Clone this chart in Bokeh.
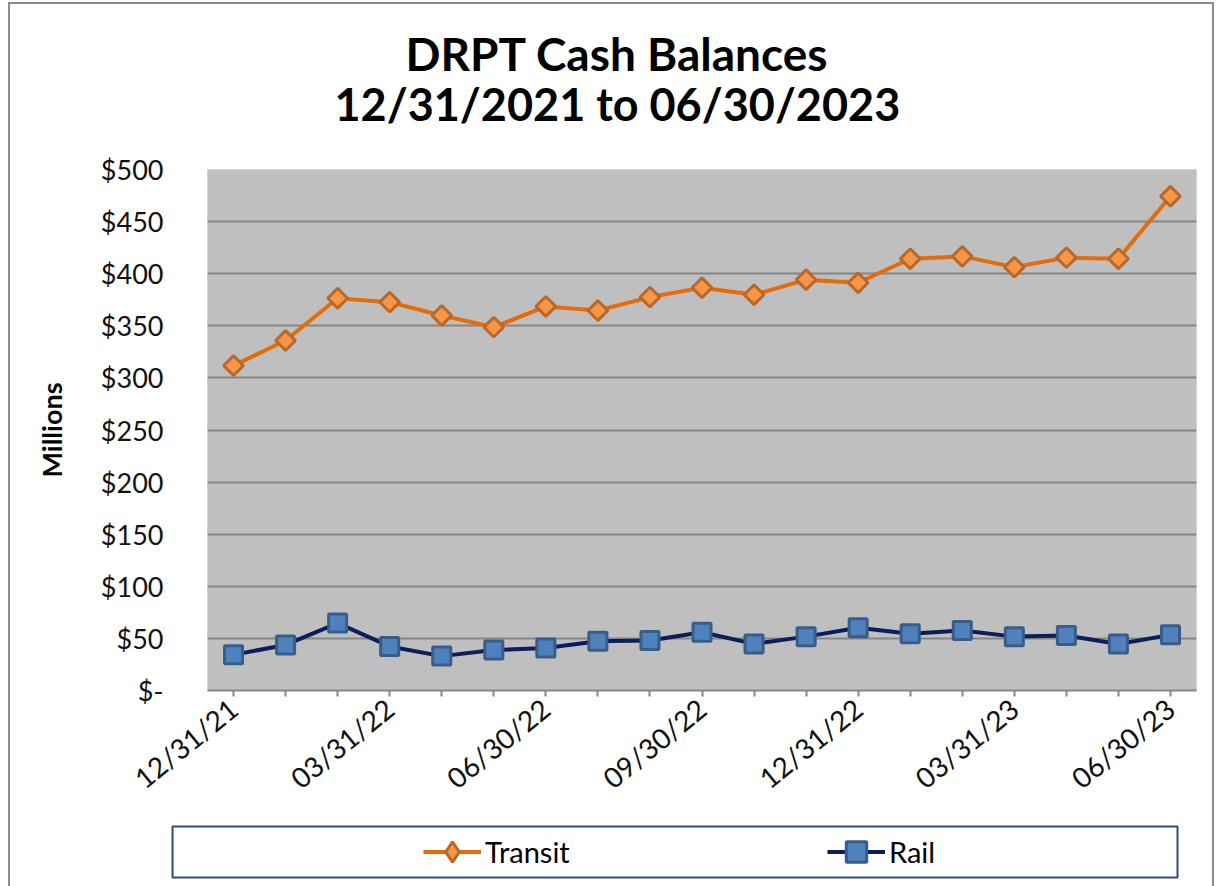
import math
from bokeh.plotting import figure
from bokeh.layouts import column
from bokeh.models import (FixedTicker, NumeralTickFormatter, Range1d, Title,
                          Legend, LegendItem)
from bokeh.embed import file_html
from bokeh.resources import INLINE

# ---------------- data ----------------
dates = ["12/31/21", "01/31/22", "02/28/22", "03/31/22", "04/30/22", "05/31/22",
         "06/30/22", "07/31/22", "08/31/22", "09/30/22", "10/31/22", "11/30/22",
         "12/31/22", "01/31/23", "02/28/23", "03/31/23", "04/30/23", "05/31/23",
         "06/30/23"]
transit = [311.8, 335.9, 376.5, 372.7, 359.9, 348.7, 368.6, 364.7, 377.5, 386.5,
           379.8, 394.2, 391.3, 414.4, 416.6, 406.3, 415.4, 414.4, 474.3]
rail = [34.3, 43.7, 64.7, 42.3, 33.0, 38.8, 40.8, 47.2, 47.9, 55.9,
        44.7, 51.7, 60.2, 54.4, 57.6, 51.7, 52.7, 44.7, 53.4]
y_ticks = [0, 50, 100, 150, 200, 250, 300, 350, 400, 450, 500]
shown_every = 3
title_lines = ["DRPT Cash Balances", "12/31/2021 to 06/30/2023"]
y_label = "Millions"
series_names = ["Transit", "Rail"]

FONT = "Lato"
x = list(range(len(dates)))

TRANSIT_LINE = "#E46C0A"
TRANSIT_FILL = "#F79646"
TRANSIT_EDGE = "#B8682B"
RAIL_LINE = "#0B1E5B"
RAIL_FILL = "#4F81BD"
RAIL_EDGE = "#385D8A"

p = figure(width=1202, height=810, output_backend="svg", toolbar_location=None,
           title=None,
           x_range=Range1d(-0.5, len(dates) - 0.5), y_range=Range1d(0, 500),
           min_border_left=197, min_border_right=16, min_border_top=165,
           min_border_bottom=124)
p.frame_align = False
p.background_fill_color = "#BFBFBF"
p.border_fill_color = "white"
p.outline_line_color = "#D4D4D4"
p.outline_line_width = 1

# titles (first added sits nearest the plot)
p.add_layout(Title(text=title_lines[1], align="left", offset=127, standoff=77,
                   text_font=FONT, text_font_style="bold", text_font_size="45px",
                   text_color="black"), "above")
p.add_layout(Title(text=title_lines[0], align="left", offset=198, standoff=-89,
                   text_font=FONT, text_font_style="bold", text_font_size="46px",
                   text_color="black"), "above")

# grid
p.xgrid.visible = False
p.ygrid.ticker = FixedTicker(ticks=y_ticks)
p.ygrid.grid_line_color = "#868686"
p.ygrid.grid_line_width = 2

# y axis
p.yaxis.ticker = FixedTicker(ticks=y_ticks)
p.yaxis.formatter = NumeralTickFormatter(format="$0")
p.yaxis.major_label_overrides = {0: "$-"}
p.yaxis.axis_line_color = None
p.yaxis.major_tick_line_color = None
p.yaxis.minor_tick_line_color = None
p.yaxis.major_label_standoff = 38
p.yaxis.major_label_text_font = FONT
p.yaxis.major_label_text_font_size = "27px"
p.yaxis.major_label_text_color = "#111111"
p.yaxis.axis_label = y_label
p.yaxis.axis_label_text_font = FONT
p.yaxis.axis_label_text_font_style = "bold"
p.yaxis.axis_label_text_font_size = "27px"
p.yaxis.axis_label_text_color = "black"
p.yaxis.axis_label_standoff = 30

# x axis
p.xaxis.ticker = FixedTicker(ticks=x)
p.xaxis.major_label_overrides = {i: (d if i % shown_every == 0 else "") for i, d in enumerate(dates)}
p.xaxis.major_label_orientation = 0.68
p.xaxis.axis_line_color = "#868686"
p.xaxis.axis_line_width = 2
p.xaxis.major_tick_line_color = "#868686"
p.xaxis.major_tick_line_width = 2
p.xaxis.major_tick_out = 6
p.xaxis.major_tick_in = 0
p.xaxis.minor_tick_line_color = None
p.xaxis.major_label_standoff = 8
p.xaxis.major_label_text_font = FONT
p.xaxis.major_label_text_font_size = "28px"
p.xaxis.major_label_text_color = "#111111"

# series
p.line(x, transit, line_color=TRANSIT_LINE, line_width=4)
p.scatter(x, transit, marker="square", angle=math.pi / 4, size=14,
          fill_color=TRANSIT_FILL, line_color=TRANSIT_EDGE, line_width=3)
p.line(x, rail, line_color=RAIL_LINE, line_width=4)
p.scatter(x, rail, marker="square", size=18,
          fill_color=RAIL_FILL, line_color=RAIL_EDGE, line_width=3)

# ---------------- legend strip ----------------
# same series plotted on a strip whose ranges keep them out of view; only the
# legend of this strip is visible
p2 = figure(width=1202, height=72, output_backend="svg", toolbar_location=None,
            title=None, x_axis_type=None, y_axis_type=None,
            x_range=Range1d(0, 1), y_range=Range1d(0, 1),
            min_border_left=162, min_border_right=35, min_border_top=12,
            min_border_bottom=9)
p2.frame_align = False
p2.grid.visible = False
p2.background_fill_color = "white"
p2.border_fill_color = "white"
p2.outline_line_color = "#2E4A7D"
p2.outline_line_width = 2

lt = p2.line(x, transit, line_color=TRANSIT_LINE, line_width=4)
mt = p2.scatter(x, transit, marker="diamond", size=14,
                fill_color=TRANSIT_FILL, line_color=TRANSIT_EDGE, line_width=3)
lr = p2.line(x, rail, line_color=RAIL_LINE, line_width=4)
mr = p2.scatter(x, rail, marker="square", size=18,
                fill_color=RAIL_FILL, line_color=RAIL_EDGE, line_width=3)

legend = Legend(items=[LegendItem(label=series_names[0], renderers=[lt, mt]),
                       LegendItem(label=series_names[1], renderers=[lr, mr])],
                location=(251, 0), orientation="horizontal",
                spacing=242, glyph_width=58, glyph_height=51, label_standoff=4,
                label_width=100, padding=0, margin=0,
                border_line_color=None, background_fill_alpha=0,
                label_text_font=FONT, label_text_font_size="29px",
                label_text_color="black")
p2.add_layout(legend)

layout = column(p, p2, spacing=0,
                styles={"margin-left": "8px", "margin-top": "2px",
                        "border-left": "2px solid #8C8C8C",
                        "border-top": "2px solid #8C8C8C",
                        "border-right": "2px solid #8C8C8C"})

open("out.html", "w").write(file_html(layout, INLINE))
